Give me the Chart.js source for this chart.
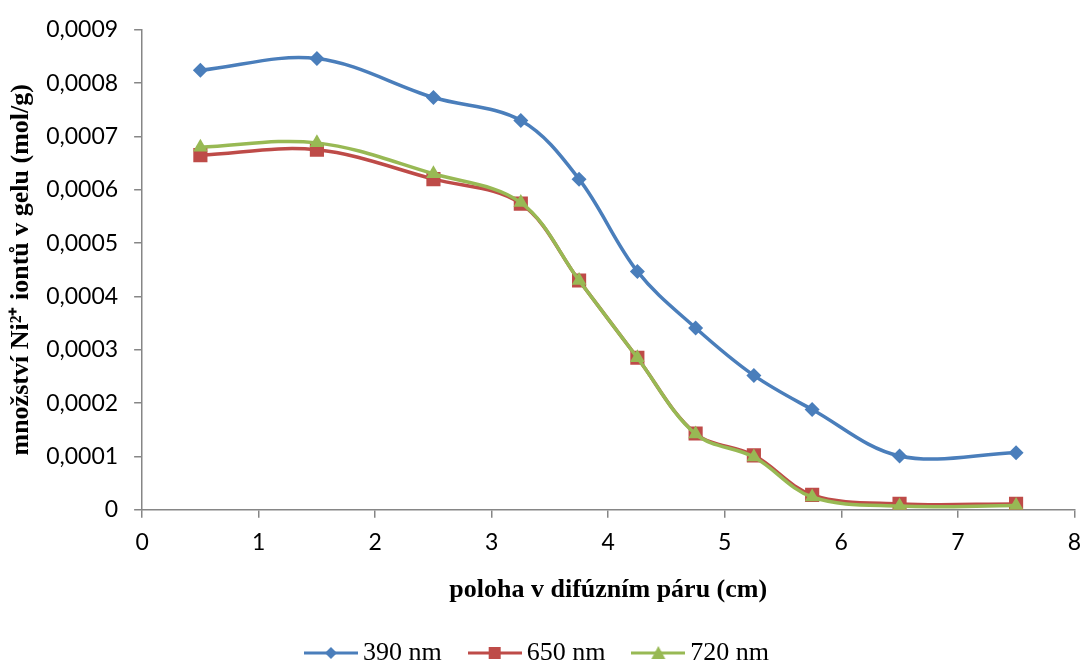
<!DOCTYPE html>
<html>
<head>
<meta charset="utf-8">
<script src="https://cdn.jsdelivr.net/npm/chart.js@4/dist/chart.umd.min.js"></script>
<style>
    html, body { margin: 0; padding: 0; background: #fff; }
    #wrap { width: 1083px; height: 666px; }
</style>
</head>
<body>
<div id="wrap"><canvas id="lineChart"></canvas></div>
<script>
// data
var positions = [0.5, 1.5, 2.5, 3.25, 3.75, 4.25, 4.75, 5.25, 5.75, 6.5, 7.5];
var nm390 = [0.000824, 0.000846, 0.000773, 0.000730, 0.000620, 0.000447, 0.000341, 0.000252, 0.000188, 0.000101, 0.000107];
var nm650 = [0.000665, 0.000675, 0.000620, 0.000574, 0.000430, 0.000285, 0.000143, 0.000102, 0.000028, 0.000011, 0.000011];
var nm720 = [0.000680, 0.000688, 0.000630, 0.000576, 0.000430, 0.000285, 0.000142, 0.000099, 0.000024, 0.000007, 0.000008];
var seriesNames = ['390 nm', '650 nm', '720 nm'];

var colors = ['#4a7ebb', '#be4b48', '#98b954'];
var markers = ['rectRot', 'rect', 'triangle'];
var markerSize = [7.5, 10, 8.5];

function points(values) {
    return values.map(function (v, i) { return { x: positions[i], y: v }; });
}

// legend symbol: short line with the marker in the middle
function legendIcon(color, style) {
    var c = document.createElement('canvas');
    c.width = 54; c.height = 16;
    var g = c.getContext('2d');
    g.strokeStyle = color; g.fillStyle = color; g.lineWidth = 3;
    g.beginPath(); g.moveTo(0, 8); g.lineTo(54, 8); g.stroke();
    g.beginPath();
    if (style === 'rectRot') {
        g.moveTo(27, 2); g.lineTo(33, 8); g.lineTo(27, 14); g.lineTo(21, 8);
    } else if (style === 'rect') {
        g.rect(21, 2, 12, 12);
    } else {
        g.moveTo(27, 1); g.lineTo(34, 14); g.lineTo(20, 14);
    }
    g.closePath(); g.fill();
    return c;
}

var allSeries = [nm390, nm650, nm720];
var datasets = allSeries.map(function (vals, i) {
    return {
        label: seriesNames[i],
        data: points(vals),
        order: allSeries.length - i, // later series drawn on top
        borderColor: colors[i],
        backgroundColor: colors[i],
        borderWidth: 3.5,
        tension: 0.35,
        pointStyle: markers[i],
        pointRadius: markerSize[i],
        pointBorderWidth: 0,
        pointHoverRadius: markerSize[i],
        legendIcon: legendIcon(colors[i], markers[i])
    };
});

var axisColor = '#868686';
var ctx = document.getElementById('lineChart').getContext('2d');
var lineChart = new Chart(ctx, {
    type: 'line',
    data: { datasets: datasets },
    options: {
        responsive: true,
        maintainAspectRatio: false,
        animation: false,
        layout: { autoPadding: false, padding: { left: 6, right: 8, top: 28, bottom: -10 } },
        plugins: {
            tooltip: { enabled: false },
            legend: {
                position: 'bottom',
                labels: {
                    usePointStyle: true,
                    pointStyleWidth: 38,
                    padding: 34,
                    color: '#000',
                    font: { family: 'Liberation Serif', size: 26 },
                    generateLabels: function (chart) {
                        return chart.data.datasets.map(function (ds, i) {
                            return {
                                text: ds.label,
                                pointStyle: ds.legendIcon,
                                fillStyle: ds.borderColor,
                                strokeStyle: ds.borderColor,
                                lineWidth: 0,
                                datasetIndex: i,
                                hidden: false
                            };
                        });
                    }
                }
            }
        },
        scales: {
            x: {
                type: 'linear',
                min: 0,
                max: 8,
                ticks: {
                    stepSize: 1,
                    color: '#000',
                    padding: 2,
                    font: { family: 'Lato', size: 23, lineHeight: 2 }
                },
                grid: { drawOnChartArea: false, color: axisColor, tickLength: 8, lineWidth: 1.5 },
                border: { color: axisColor, width: 1.5 },
                title: {
                    display: true,
                    text: 'poloha v difúzním páru (cm)',
                    color: '#000',
                    font: { family: 'Liberation Serif', size: 26, weight: 'bold' },
                    padding: { top: 7, bottom: 0 }
                }
            },
            y: {
                min: 0,
                max: 0.0009,
                ticks: {
                    stepSize: 0.0001,
                    color: '#000',
                    padding: 16,
                    font: { family: 'Lato', size: 23 },
                    callback: function (v) {
                        return v === 0 ? '0' : v.toFixed(4).replace('.', ',');
                    }
                },
                grid: { drawOnChartArea: false, color: axisColor, tickLength: 8, lineWidth: 1.5 },
                border: { color: axisColor, width: 1.5 },
                title: {
                    display: true,
                    text: 'množství Ni²⁺ iontů v gelu (mol/g)',
                    color: '#000',
                    font: { family: 'Liberation Serif', size: 26, weight: 'bold' },
                    padding: { top: 0, bottom: -7 }
                }
            }
        }
    }
});
</script>
</body>
</html>
